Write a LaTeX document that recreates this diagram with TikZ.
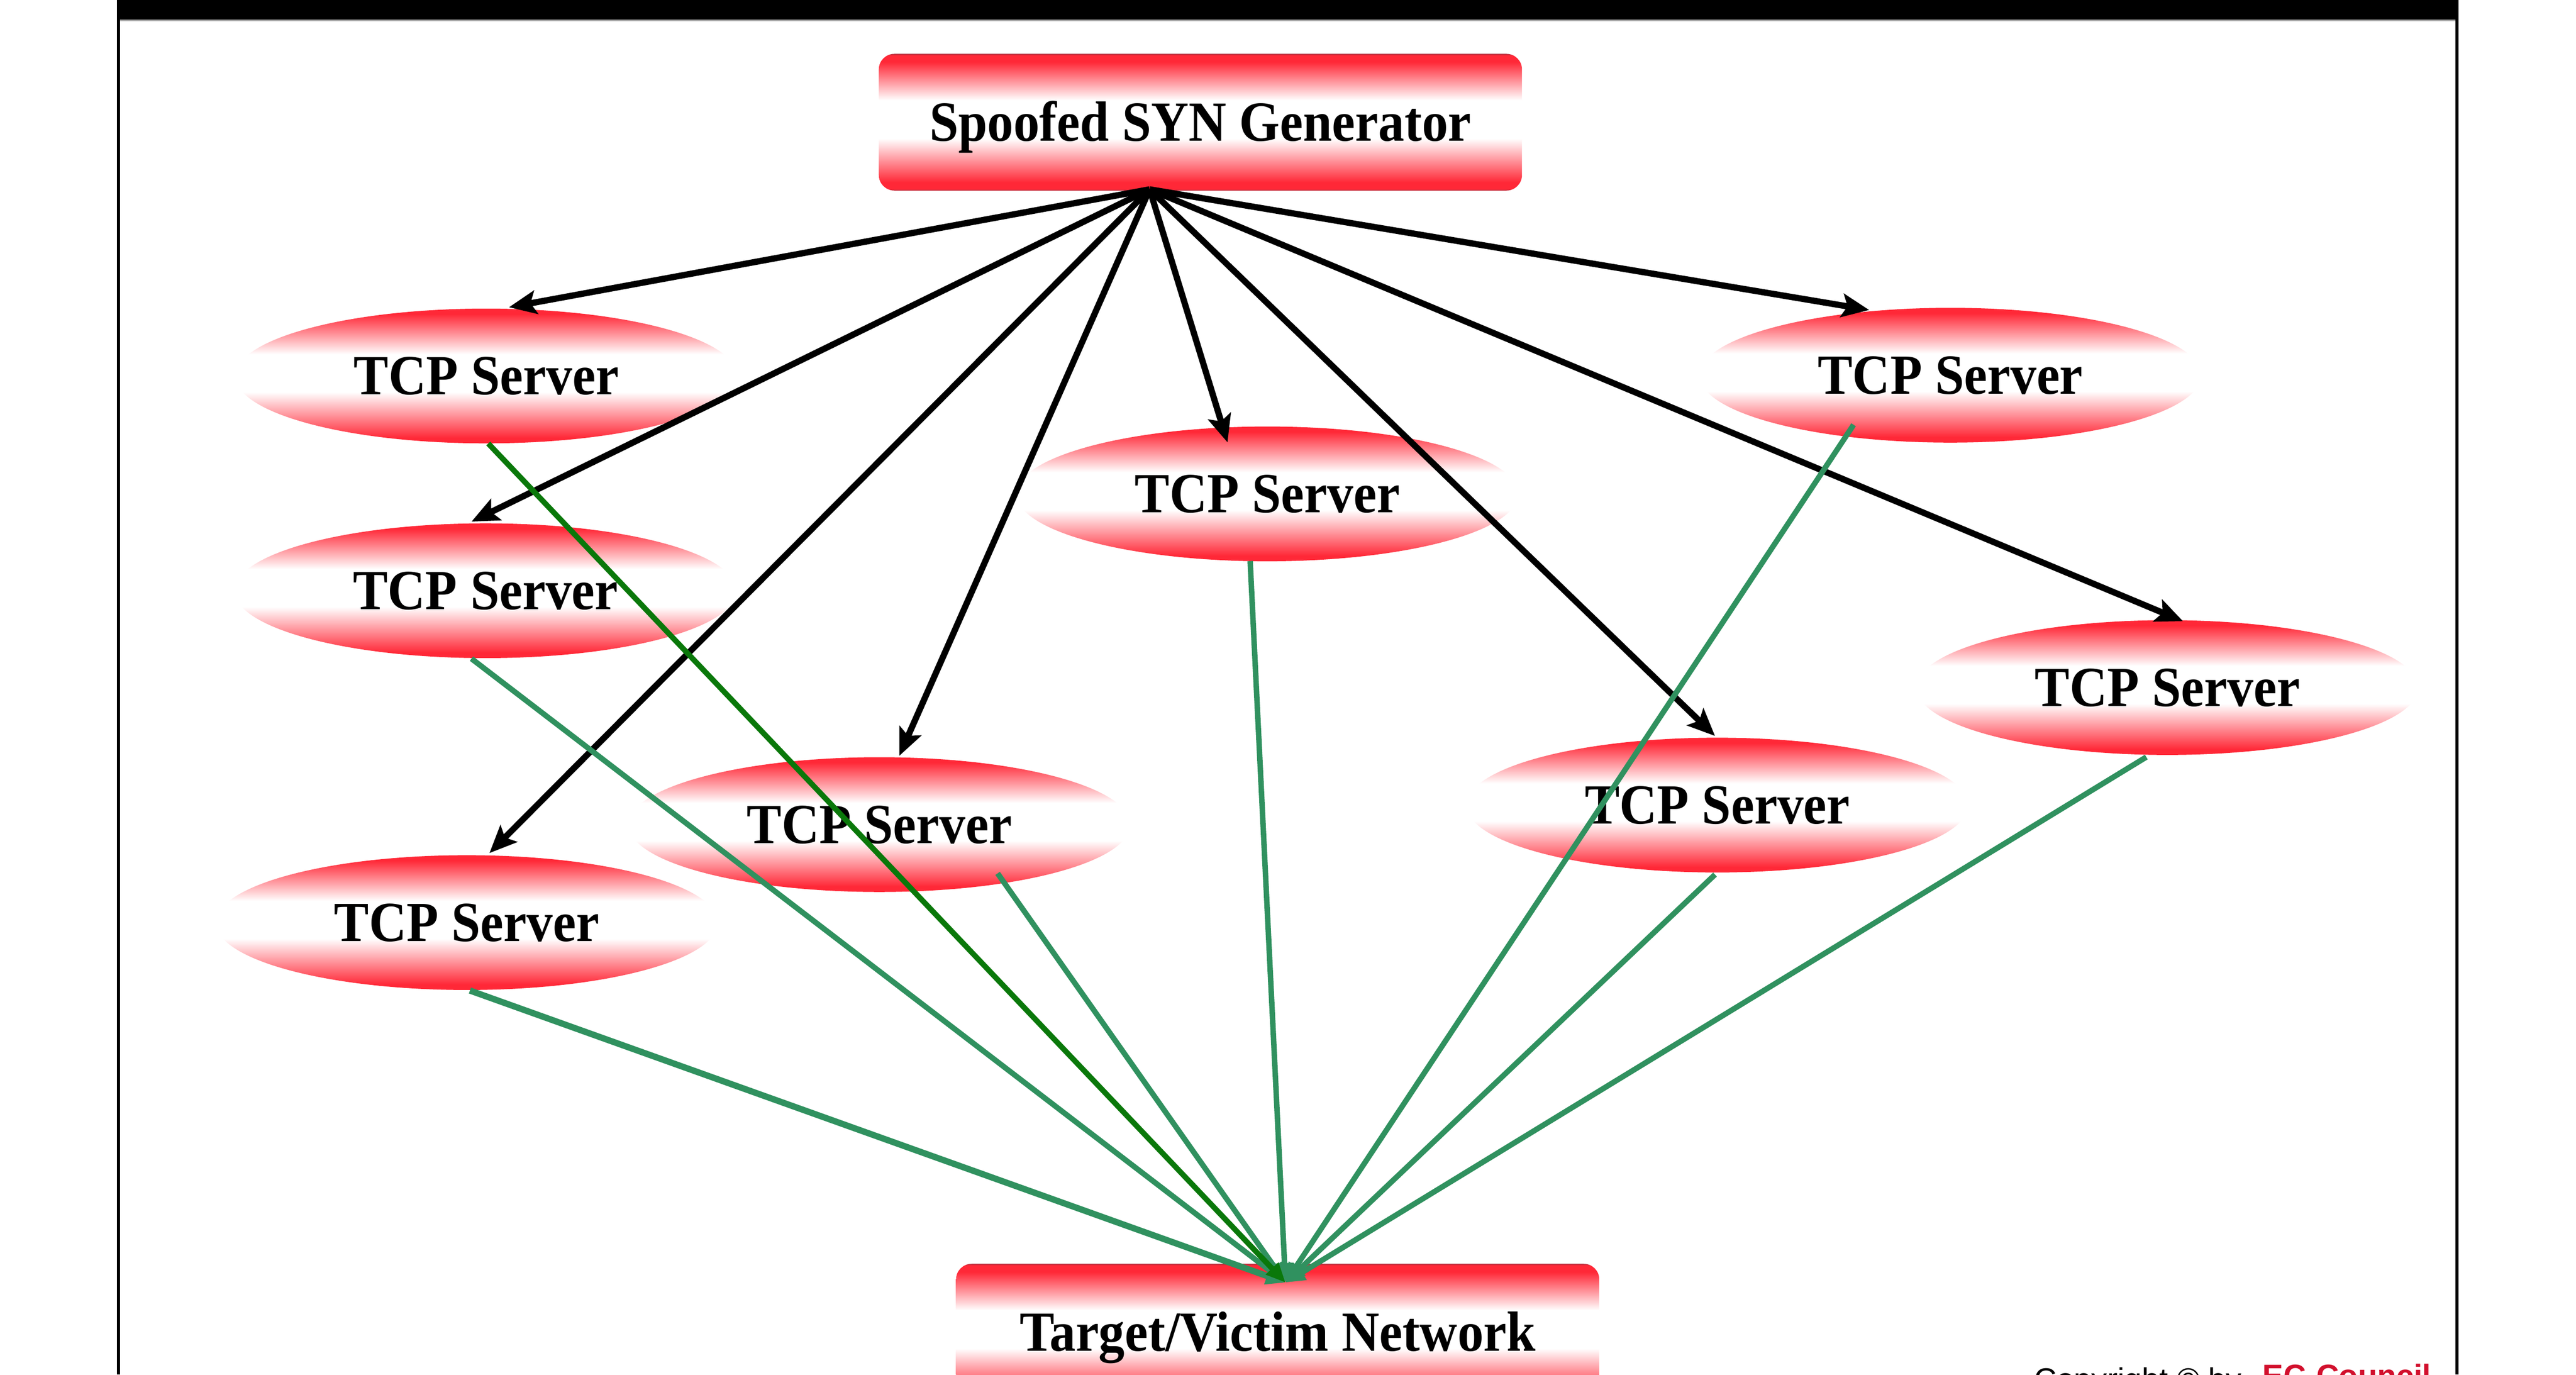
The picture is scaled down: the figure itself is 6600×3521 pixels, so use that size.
\documentclass[tikz,border=0pt]{standalone}
\usepackage{fontspec}
\setmainfont{Liberation Serif}
\newfontfamily\lblfont[FakeStretch=0.92]{Liberation Serif}
\newfontfamily\cpfont{Liberation Sans}
\usetikzlibrary{shapes.geometric,arrows.meta,calc}

\definecolor{nodered}{RGB}{255,40,55}
\definecolor{edgered}{RGB}{175,45,60}
\definecolor{seagrn}{RGB}{48,145,95}
\definecolor{darkgrn}{RGB}{10,120,10}
\definecolor{eccrimson}{RGB}{210,16,45}
\definecolor{bargray}{RGB}{166,166,166}

\pgfdeclareverticalshading{ellshade}{100bp}{color(0bp)=(nodered); color(25bp)=(nodered); color(27bp)=(nodered); color(44bp)=(white); color(58bp)=(white); color(73bp)=(nodered); color(75bp)=(nodered); color(100bp)=(nodered)}
\pgfdeclareverticalshading{rectshade}{100bp}{color(0bp)=(edgered); color(25bp)=(edgered); color(25.6bp)=(nodered); color(28bp)=(nodered); color(44bp)=(white); color(58bp)=(white); color(72bp)=(nodered); color(74.4bp)=(nodered); color(75bp)=(edgered); color(100bp)=(edgered)}

\tikzset{
  lbl/.style={font=\lblfont\bfseries\fontsize{41.3}{45}\selectfont, text height=0.96cm, text depth=0cm, inner sep=0pt},
  server/.style={ellipse, shade, shading=ellshade, minimum width=12.85cm, minimum height=3.45cm, lbl},
  boxnode/.style={rectangle, rounded corners=0.4cm, shade, shading=rectshade, minimum width=16.47cm, minimum height=3.5cm, lbl},
  blk/.style={draw=black, line width=0.16cm, -{Stealth[length=0.7cm,width=0.6cm,inset=0.14cm]}},
  grn/.style={draw=seagrn, line width=0.14cm, -{Triangle[length=0.5cm,width=0.42cm]}},
  dgrn/.style={grn, draw=darkgrn},
  cptext/.style={anchor=base west, inner sep=0pt, font=\cpfont\fontsize{22.8}{24}\selectfont}
}

\begin{document}
\begin{tikzpicture}[x=0.01cm, y=-0.01cm]
\useasboundingbox (0,0) rectangle (6600,3521);
\fill[white] (0,0) rectangle (6600,3521);

% frame
\fill[black] (300,0) rectangle (6299,50);
\fill[bargray] (308,50) rectangle (6291,54);
\fill[black] (300,0) rectangle (308,3521);
\fill[black] (6291,0) rectangle (6299,3521);

% nodes
\node[boxnode] (gen) at (3075.5,313) {Spoofed SYN Generator};
\node[boxnode] (tgt) at (3273.5,3412) {Target/Victim Network};

\node[server] (s1) at (1246,963) {TCP Server};
\node[server] (s2) at (1244,1513) {TCP Server};
\node[server] (s3) at (3247,1265) {TCP Server};
\node[server] (s4) at (4997,961) {TCP Server};
\node[server] (s5) at (5553,1761) {TCP Server};
\node[server] (s6) at (4400,2062) {TCP Server};
\node[server] (s7) at (2253,2112) {TCP Server};
\node[server] (s8) at (1196,2363) {TCP Server};

% copyright
\node[cptext] (cp) at (5211,3560) {Copyright © by};
\node[cptext, font=\cpfont\bfseries\fontsize{22.8}{24}\selectfont, text=eccrimson] (ec) at (5796,3551) {EC-Council};

% black arrows
\coordinate (src) at ($(gen.center)+(-130,172)$);
\draw[blk] (src) -- ($(s1.center)+(58,-176)$);
\draw[blk] (src) -- ($(s2.center)+(-36,-177)$);
\draw[blk] (src) -- ($(s3.center)+(-102,-132)$);
\draw[blk] (src) -- ($(s4.center)+(-208,-167)$);
\draw[blk] (src) -- ($(s5.center)+(40,-170)$);
\draw[blk] (src) -- ($(s6.center)+(-6,-177)$);
\draw[blk] (src) -- ($(s7.center)+(51,-176)$);
\draw[blk] (src) -- ($(s8.center)+(58,-178)$);

% green lines
\coordinate (dst) at ($(tgt.center)+(20,-127)$);
\draw[grn] ($(s2.center)+(-36,174)$) -- (dst);
\draw[grn] ($(s3.center)+(-44,172)$) -- (dst);
\draw[grn] ($(s4.center)+(-248,127)$) -- (dst);
\draw[grn] ($(s5.center)+(-54,178)$) -- (dst);
\draw[grn] ($(s6.center)+(-6,178)$) -- (dst);
\draw[grn] ($(s7.center)+(303,125)$) -- (dst);
\draw[grn, line width=0.16cm] ($(s8.center)+(8,174)$) -- (dst);
\draw[dgrn] ($(s1.center)+(5,173)$) -- (dst);
\end{tikzpicture}
\end{document}
